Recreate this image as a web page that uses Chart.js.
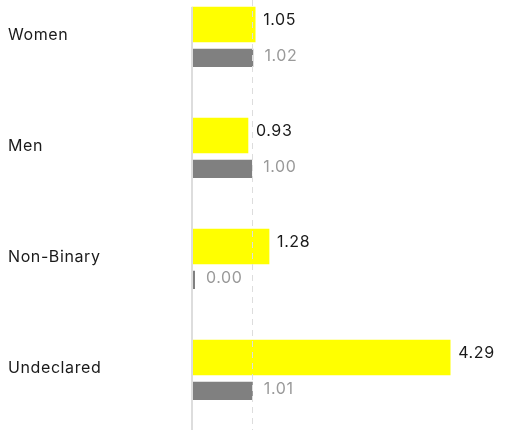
<!DOCTYPE html>
<html lang="en">
<head>
<meta charset="UTF-8" />
<title>Ratio by gender</title>
<script src="https://cdn.jsdelivr.net/npm/chart.js@4.4.1/dist/chart.umd.min.js"></script>
<style>
  body { margin: 0; background: #fff; }
  #wrap { width: 529px; height: 430px; }
</style>
</head>
<body>
<div id="wrap"><canvas id="chart"></canvas></div>
<script>
const categories = ['Women', 'Men', 'Non-Binary', 'Undeclared'];
const yellowValues = [1.05, 0.93, 1.28, 4.29];
const greyValues = [1.02, 1.00, 0.00, 1.01];
const refLines = [0, 1]; // solid axis at 0, dashed parity line at 1

const FONT = 'Inter, "Noto Sans", sans-serif';

// axis + parity line, then the value labels
const overlay = {
  id: 'overlay',
  beforeDraw(chart) {
    // the reference type is a bit looser than Inter
    chart.ctx.letterSpacing = '0.6px';
  },
  afterDatasetsDraw(chart) {
    const ctx = chart.ctx;
    const x = chart.scales.x;
    const top = 7, bottom = chart.height;
    ctx.save();
    ctx.strokeStyle = '#dddddd';
    ctx.lineWidth = 2;
    ctx.beginPath();
    ctx.moveTo(x.getPixelForValue(refLines[0]), top);
    ctx.lineTo(x.getPixelForValue(refLines[0]), bottom);
    ctx.stroke();
    ctx.lineWidth = 1;
    ctx.setLineDash([6, 5]);
    ctx.beginPath();
    ctx.moveTo(Math.round(x.getPixelForValue(refLines[1])) + 0.5, 0);
    ctx.lineTo(Math.round(x.getPixelForValue(refLines[1])) + 0.5, bottom);
    ctx.stroke();
    ctx.setLineDash([]);

    ctx.font = '16px ' + FONT;
    ctx.textBaseline = 'middle';
    ctx.textAlign = 'left';
    chart.getDatasetMeta(0).data.forEach((bar, i) => {
      ctx.fillStyle = '#1a1a1a';
      ctx.fillText(yellowValues[i].toFixed(2), bar.x + 8, bar.y - 4);
    });
    chart.getDatasetMeta(1).data.forEach((bar, i) => {
      ctx.fillStyle = '#9a9a9a';
      ctx.fillText(greyValues[i].toFixed(2), bar.x + 11, bar.y + 1.5);
    });
    ctx.restore();
  }
};

new Chart(document.getElementById('chart'), {
  type: 'bar',
  data: {
    labels: categories,
    datasets: [
      {
        data: yellowValues,
        backgroundColor: '#ffff00',
        barThickness: 35,
        clip: false
      },
      {
        data: greyValues,
        backgroundColor: '#808080',
        barThickness: 25,
        minBarLength: 3,
        clip: false,
        // transparent top border makes the gap under the yellow bar
        borderWidth: { top: 7, right: 0, bottom: 0, left: 0 },
        borderColor: 'rgba(0,0,0,0)',
        borderSkipped: false
      }
    ]
  },
  options: {
    indexAxis: 'y',
    responsive: true,
    maintainAspectRatio: false,
    animation: false,
    layout: { padding: { left: 8, right: 0, top: 42, bottom: 55 } },
    plugins: {
      legend: { display: false },
      tooltip: { enabled: false }
    },
    scales: {
      x: {
        display: false,
        min: 0,
        max: 5.6
      },
      y: {
        offset: false,
        grid: { display: false },
        border: { display: false },
        afterFit(scale) { scale.width = 184; },
        ticks: {
          crossAlign: 'far',
          padding: 0,
          labelOffset: -7,
          color: '#1a1a1a',
          font: { family: FONT, size: 16 }
        }
      }
    }
  },
  plugins: [overlay]
});
</script>
</body>
</html>
